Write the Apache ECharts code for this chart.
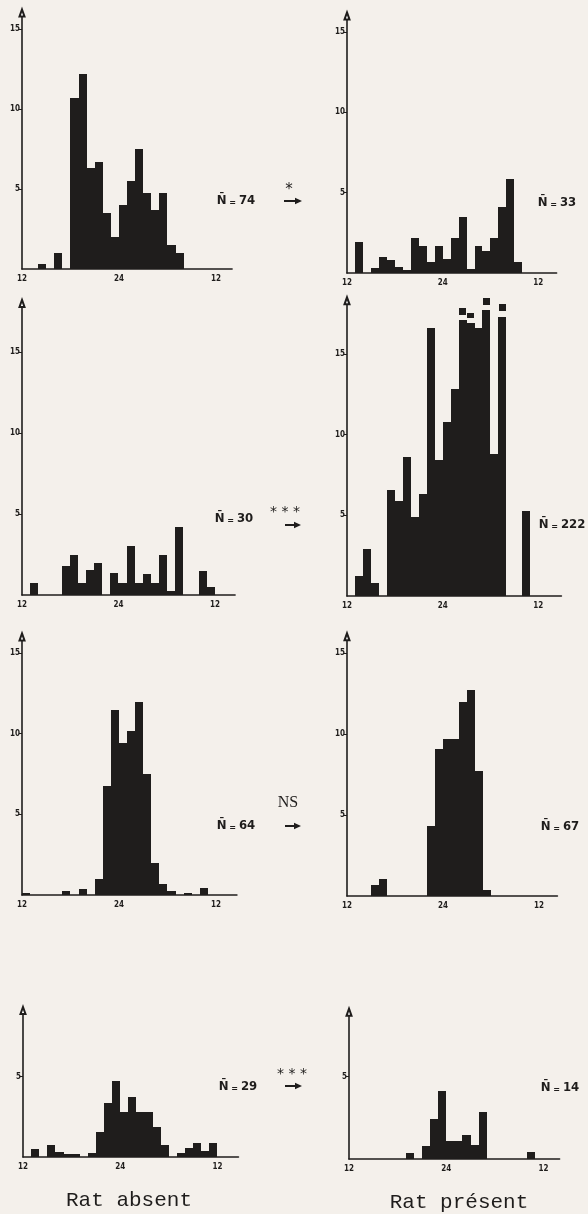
<!DOCTYPE html>
<html><head><meta charset="utf-8">
<script src="https://cdn.jsdelivr.net/npm/echarts@6/dist/echarts.min.js"></script>
<style>html,body{margin:0;padding:0;background:#f4f0eb;} #c{width:588px;height:1214px;}</style>
</head><body><div id="c"></div>
<script>
// Hour bins: index 0 = 12h-13h ... index 12 = 24h-1h ... index 23 = 11h-12h
const xTickValues = [12, 24, 36];
const xTickLabels = ['12', '24', '12'];
const yTicksTall = [5, 10, 15];
const yTicksShort = [5];

const absent74   = [0,0,0.3,0,1.0,0,10.7,12.2,6.3,6.7,3.5,2.0,4.0,5.5,7.5,4.75,3.7,4.75,1.5,1.0,0,0,0,0];
const present33  = [0,1.9,0,0.3,1.0,0.8,0.35,0.2,2.2,1.7,0.7,1.7,0.9,2.2,3.5,0.25,1.65,1.35,2.2,4.1,5.85,0.7,0,0];
const absent30   = [0,0.75,0,0,0,1.8,2.5,0.75,1.55,2.0,0,1.35,0.75,3.0,0.75,1.3,0.75,2.5,0.25,4.2,0,0,1.5,0.5];
const present222 = [0,1.25,2.9,0.8,0,6.6,5.9,8.6,4.9,6.35,16.6,8.45,10.8,12.85,17.1,16.9,16.6,17.7,8.8,17.3,0,0,5.25,0];
// broken (off-scale) bars: [hour index, from, to]
const present222Breaks = [[14,17.4,17.85],[15,17.25,17.55],[17,18.05,18.5],[19,17.65,18.1]];
const absent64   = [0.15,0,0,0,0,0.25,0,0.4,0,0.97,6.75,11.45,9.4,10.15,11.95,7.5,2.0,0.7,0.25,0,0.15,0,0.45,0];
const present67  = [0,0,0,0.7,1.05,0,0,0,0,0,4.35,9.05,9.7,9.7,12.0,12.7,7.7,0.4,0,0,0,0,0,0];
const absent29   = [0,0.5,0,0.75,0.3,0.2,0.2,0,0.25,1.55,3.35,4.75,2.8,3.7,2.8,2.8,1.85,0.75,0,0.25,0.55,0.85,0.35,0.85];
const present14  = [0,0,0,0,0,0,0,0.35,0,0.8,2.4,4.1,1.1,1.1,1.45,0.85,2.85,0,0,0,0,0,0.4,0];

const nLabels = ['74','33','30','222','64','67','29','14'];
const testLabels = ['*', '* * *', 'NS', '* * *'];
const columnTitles = ['Rat absent', 'Rat présent'];

// layout (pixels): origin x, px per hour, axis end (hours), baseline y, px per unit, y max
const layout = [
  {x0:22,  sx:8.08, xMax:38.0, yb:269,  sy:16.0,  yMax:16.0, yt:yTicksTall},
  {x0:347, sx:7.97, xMax:38.3, yb:273,  sy:16.07, yMax:16.0, yt:yTicksTall},
  {x0:22,  sx:8.04, xMax:38.5, yb:595,  sy:16.2,  yMax:18.0, yt:yTicksTall},
  {x0:347, sx:7.97, xMax:38.9, yb:596,  sy:16.13, yMax:18.3, yt:yTicksTall},
  {x0:22,  sx:8.08, xMax:38.6, yb:895,  sy:16.13, yMax:16.0, yt:yTicksTall},
  {x0:347, sx:8.0,  xMax:38.3, yb:896,  sy:16.2,  yMax:16.0, yt:yTicksTall},
  {x0:23,  sx:8.1,  xMax:38.6, yb:1157, sy:16.1,  yMax:9.1,  yt:yTicksShort},
  {x0:349, sx:8.1,  xMax:38.0, yb:1159, sy:16.5,  yMax:8.9,  yt:yTicksShort}
];
const panelData = [absent74, present33, absent30, present222, absent64, present67, absent29, present14];

const INK = '#1f1d1c';
const BG = '#f4f0eb';
const tickFont = {fontFamily:'"Liberation Sans Narrow","DejaVu Sans Condensed",sans-serif', fontWeight:'bold', fontSize:8, color:INK};

function rectFrom(p0, p1) {
  const x0 = Math.round(p0[0]), x1 = Math.round(p1[0]);
  const yTop = Math.round(p1[1]), yBot = Math.round(p0[1]);
  return {x:x0, y:yTop, width:x1 - x0, height:yBot - yTop};
}

const grids = [], xAxes = [], yAxes = [], series = [];
layout.forEach((L, i) => {
  const h = L.yMax * L.sy;
  grids.push({left:L.x0, top:L.yb - h, width:(L.xMax - 12) * L.sx, height:h, outerBoundsMode:'none', containLabel:false});
  xAxes.push({
    type:'value', gridIndex:i, min:12, max:L.xMax,
    axisLine:{show:true, onZero:false, lineStyle:{color:INK, width:1.6}},
    axisTick:{show:false},
    splitLine:{show:false},
    axisLabel:Object.assign({margin:6, customValues:xTickValues,
      formatter:v => xTickLabels[xTickValues.indexOf(v)] || ''}, tickFont)
  });
  yAxes.push({
    type:'value', gridIndex:i, min:0, max:L.yMax,
    axisLine:{show:true, onZero:false, symbol:['none','emptyTriangle'], symbolSize:[5,7], lineStyle:{color:INK, width:1.6}},
    axisTick:{show:true, length:3, customValues:L.yt, lineStyle:{color:INK, width:1}},
    splitLine:{show:false},
    axisLabel:Object.assign({margin:2, customValues:L.yt}, tickFont)
  });
  series.push({
    type:'custom', xAxisIndex:i, yAxisIndex:i, silent:true,
    data: panelData[i].map((v, k) => [k, v]),
    renderItem: (params, api) => {
      const k = api.value(0), v = api.value(1);
      if (!v) return null;
      return {type:'rect', shape:rectFrom(api.coord([12 + k, 0]), api.coord([13 + k, v])),
        style:{fill:INK}};
    }
  });
});
series.push({
  type:'custom', xAxisIndex:3, yAxisIndex:3, silent:true,
  data: present222Breaks,
  renderItem: (params, api) => {
    const k = api.value(0), lo = api.value(1), hi = api.value(2);
    return {type:'rect', shape:rectFrom(api.coord([12 + k + 0.08, lo]), api.coord([13 + k - 0.08, hi])), style:{fill:INK}};
  }
});

const nFont = '"DejaVu Sans Condensed","Liberation Sans Narrow",sans-serif';
function nText(x, y, n) {
  return {type:'text', x:x, y:y, silent:true, style:{
    text:'{a|N\u0304}{b| = }{a|' + n + '}',
    align:'center', verticalAlign:'middle',
    rich:{
      a:{fontFamily:nFont, fontWeight:'bold', fontSize:13, fill:INK},
      b:{fontFamily:nFont, fontWeight:'bold', fontSize:9, fill:INK, padding:[4,0,0,0]}
    }
  }};
}
function arrow(x0, x1, y) {
  return {type:'group', silent:true, children:[
    {type:'line', shape:{x1:x0, y1:y, x2:x1-5, y2:y}, style:{stroke:INK, lineWidth:2}},
    {type:'polygon', shape:{points:[[x1,y],[x1-7,y-3.2],[x1-7,y+3.2]]}, style:{fill:INK}}
  ]};
}
function plain(x, y, text, family, size, weight) {
  return {type:'text', x:x, y:y, silent:true, style:{text:text, fontFamily:family, fontSize:size, fontWeight:weight||'normal', fill:INK, align:'center', verticalAlign:'middle'}};
}
const mono = '"Liberation Mono","DejaVu Sans Mono",monospace';
const star = '"DejaVu Sans",sans-serif';
const graphics = [
  nText(236, 201, nLabels[0]), nText(557, 203, nLabels[1]),
  nText(234, 519, nLabels[2]), nText(562, 525, nLabels[3]),
  nText(236, 826, nLabels[4]), nText(560, 827, nLabels[5]),
  nText(238, 1087, nLabels[6]), nText(560, 1088, nLabels[7]),
  plain(289, 190, testLabels[0], star, 15),
  plain(285, 512, testLabels[1], star, 14),
  plain(288, 803, testLabels[2], '"Liberation Serif","DejaVu Serif",serif', 16),
  plain(292, 1074, testLabels[3], star, 14),
  arrow(284, 302, 201), arrow(285, 301, 525), arrow(285, 301, 826), arrow(285, 302, 1086),
  plain(129, 1200, columnTitles[0], mono, 21),
  plain(459, 1202, columnTitles[1], mono, 21)
];

const chart = echarts.init(document.getElementById('c'), null, {renderer:'canvas'});
chart.setOption({
  backgroundColor: BG,
  animation: false,
  grid: grids, xAxis: xAxes, yAxis: yAxes, series: series,
  graphic: graphics
});
</script></body></html>
